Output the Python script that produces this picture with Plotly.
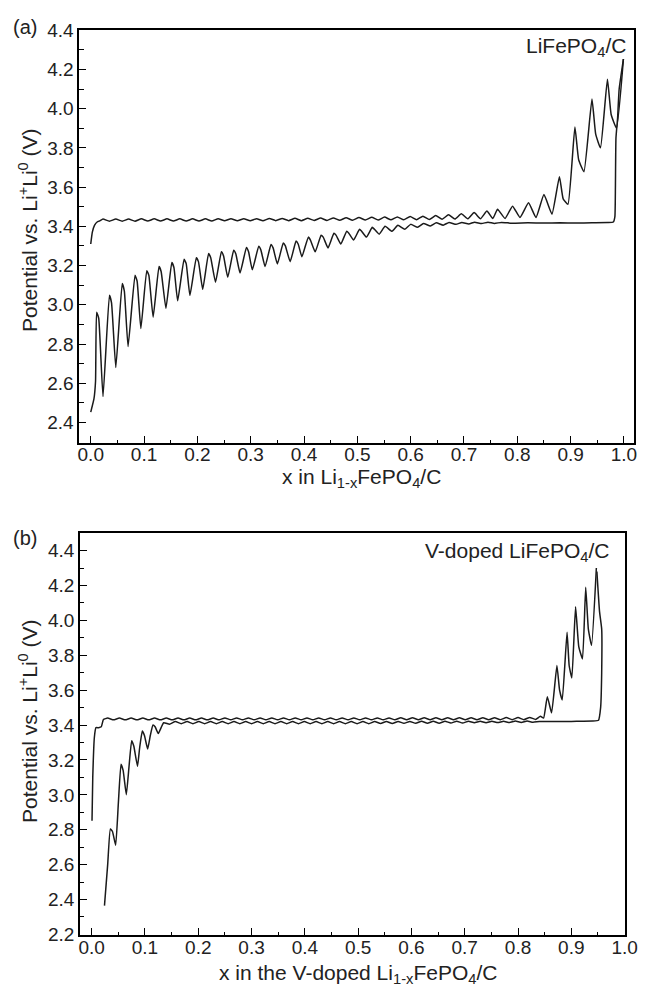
import plotly.graph_objects as go

# ---------------- Panel (a): LiFePO4/C ----------------
a_chg_x = [0.000, 0.003, 0.007, 0.012, 0.017,
           0.023, 0.035, 0.047, 0.059, 0.071, 0.083, 0.095, 0.107, 0.119, 0.131,
           0.143, 0.155, 0.167, 0.179, 0.191, 0.203, 0.215, 0.227, 0.239, 0.251,
           0.263, 0.275, 0.287, 0.299, 0.311, 0.323, 0.335, 0.347, 0.359, 0.371,
           0.383, 0.395, 0.407, 0.419, 0.431, 0.443, 0.455, 0.467, 0.479, 0.491,
           0.503, 0.515, 0.527, 0.539, 0.551, 0.563, 0.575, 0.587, 0.599, 0.611,
           0.623, 0.635, 0.647, 0.659, 0.671, 0.683, 0.695, 0.707, 0.719, 0.731,
           0.743, 0.754, 0.763, 0.777, 0.791, 0.805, 0.821, 0.835, 0.850, 0.865,
           0.879, 0.886, 0.895, 0.908, 0.915, 0.925, 0.940, 0.947, 0.956, 0.969,
           0.976, 0.986, 0.999]
a_chg_y = [3.310, 3.370, 3.405, 3.422, 3.428,
           3.437, 3.426, 3.437, 3.426, 3.437, 3.426, 3.438, 3.427, 3.438, 3.427,
           3.438, 3.427, 3.438, 3.427, 3.438, 3.427, 3.438, 3.427, 3.439, 3.428,
           3.439, 3.428, 3.439, 3.428, 3.439, 3.428, 3.440, 3.429, 3.440, 3.429,
           3.441, 3.429, 3.441, 3.430, 3.442, 3.430, 3.443, 3.431, 3.444, 3.431,
           3.445, 3.432, 3.446, 3.432, 3.447, 3.433, 3.448, 3.433, 3.450, 3.434,
           3.452, 3.435, 3.455, 3.436, 3.459, 3.437, 3.464, 3.438, 3.470, 3.439,
           3.478, 3.440, 3.487, 3.440, 3.503, 3.445, 3.520, 3.445, 3.562, 3.462,
           3.653, 3.540, 3.512, 3.907, 3.740, 3.678, 4.049, 3.870, 3.800, 4.150,
           3.970, 3.900, 4.253]

a_dis_x = [0.000, 0.006, 0.009, 0.011, 0.015, 0.023,
           0.035, 0.039, 0.047, 0.059, 0.063, 0.070, 0.083, 0.087, 0.094,
           0.105, 0.109, 0.117, 0.128, 0.132, 0.141, 0.152, 0.156, 0.163,
           0.175, 0.179, 0.186, 0.198, 0.202, 0.210, 0.221, 0.225, 0.234,
           0.245, 0.249, 0.257, 0.268, 0.272, 0.280, 0.292, 0.296, 0.303,
           0.315, 0.319, 0.327, 0.338, 0.342, 0.350, 0.361, 0.365, 0.374,
           0.385, 0.389, 0.396, 0.408, 0.412, 0.421, 0.432, 0.436, 0.445,
           0.456, 0.460, 0.469, 0.480, 0.484, 0.493, 0.504, 0.508, 0.517,
           0.528, 0.532, 0.541, 0.552, 0.565, 0.576, 0.589, 0.600, 0.613,
           0.624, 0.637, 0.648, 0.661, 0.672, 0.685, 0.696, 0.709, 0.720,
           0.733, 0.745, 0.757, 0.770, 0.790, 0.820, 0.850, 0.880, 0.910,
           0.940, 0.970, 0.980, 0.983, 0.984, 0.985, 0.988, 0.991, 0.999]
a_dis_y = [2.453, 2.520, 2.610, 2.962, 2.930, 2.532,
           3.048, 3.010, 2.680, 3.108, 3.070, 2.787, 3.150, 3.120, 2.879,
           3.174, 3.150, 2.937, 3.195, 3.170, 2.982, 3.215, 3.190, 3.020,
           3.232, 3.210, 3.048, 3.240, 3.220, 3.079, 3.262, 3.240, 3.115,
           3.270, 3.250, 3.140, 3.278, 3.260, 3.162, 3.292, 3.270, 3.178,
           3.298, 3.280, 3.195, 3.307, 3.290, 3.208, 3.315, 3.300, 3.220,
           3.325, 3.310, 3.245, 3.345, 3.330, 3.270, 3.355, 3.345, 3.290,
           3.365, 3.355, 3.310, 3.375, 3.365, 3.330, 3.385, 3.375, 3.345,
           3.395, 3.385, 3.360, 3.400, 3.375, 3.405, 3.385, 3.410, 3.395,
           3.415, 3.402, 3.418, 3.406, 3.420, 3.410, 3.420, 3.412, 3.421,
           3.414, 3.421, 3.415, 3.420, 3.416, 3.418, 3.417, 3.418, 3.417,
           3.418, 3.419, 3.422, 3.450, 3.600, 3.850, 3.950, 4.100, 4.253]

# ---------------- Panel (b): V-doped LiFePO4/C ----------------
b_chg_x = [0.0006, 0.002, 0.005, 0.008, 0.013, 0.018, 0.022,
           0.030, 0.041, 0.052, 0.063, 0.074, 0.085, 0.096, 0.107, 0.118, 0.129,
           0.140, 0.151, 0.162, 0.173, 0.184, 0.195, 0.206, 0.217, 0.228, 0.239,
           0.250, 0.261, 0.272, 0.283, 0.294, 0.305, 0.316, 0.327, 0.338, 0.349,
           0.360, 0.371, 0.382, 0.393, 0.404, 0.415, 0.426, 0.437, 0.448, 0.459,
           0.470, 0.481, 0.492, 0.503, 0.514, 0.525, 0.536, 0.547, 0.558, 0.569,
           0.580, 0.591, 0.602, 0.613, 0.624, 0.635, 0.646, 0.657, 0.668, 0.679,
           0.690, 0.701, 0.712, 0.723, 0.734, 0.745, 0.756, 0.767, 0.778, 0.789,
           0.800, 0.811, 0.822, 0.833, 0.842, 0.848,
           0.855, 0.863, 0.873, 0.878, 0.883, 0.892, 0.896, 0.901, 0.908, 0.914,
           0.921, 0.927, 0.932, 0.938, 0.947]
b_chg_y = [2.852, 3.100, 3.329, 3.385, 3.385, 3.390, 3.432,
           3.440, 3.430, 3.440, 3.430, 3.440, 3.430, 3.440, 3.430, 3.440, 3.430,
           3.440, 3.430, 3.440, 3.430, 3.440, 3.430, 3.440, 3.430, 3.440, 3.430,
           3.441, 3.430, 3.441, 3.430, 3.441, 3.430, 3.441, 3.430, 3.441, 3.430,
           3.441, 3.430, 3.441, 3.430, 3.441, 3.430, 3.441, 3.430, 3.441, 3.430,
           3.441, 3.430, 3.441, 3.430, 3.441, 3.430, 3.441, 3.430, 3.441, 3.430,
           3.442, 3.431, 3.442, 3.431, 3.442, 3.431, 3.442, 3.431, 3.442, 3.431,
           3.442, 3.431, 3.442, 3.431, 3.442, 3.431, 3.442, 3.431, 3.443, 3.431,
           3.443, 3.431, 3.444, 3.432, 3.450, 3.440,
           3.563, 3.470, 3.741, 3.600, 3.544, 3.932, 3.740, 3.670, 4.078, 3.850,
           3.779, 4.190, 3.950, 3.857, 4.300]

b_dis_x = [0.024, 0.030, 0.035, 0.039, 0.045, 0.050, 0.055, 0.059, 0.065,
           0.070, 0.075, 0.079, 0.086, 0.090, 0.095, 0.099, 0.105, 0.110,
           0.115, 0.119, 0.125, 0.135, 0.146,
           0.157, 0.168, 0.179, 0.190, 0.201, 0.212, 0.223, 0.234, 0.245, 0.256,
           0.267, 0.278, 0.289, 0.300, 0.311, 0.322, 0.333, 0.344, 0.355, 0.366,
           0.377, 0.388, 0.399, 0.410, 0.421, 0.432, 0.443, 0.454, 0.465, 0.476,
           0.487, 0.498, 0.509, 0.520, 0.531, 0.542, 0.553, 0.564, 0.575, 0.586,
           0.597, 0.608, 0.619, 0.630, 0.641, 0.652, 0.663, 0.674, 0.685, 0.696,
           0.707, 0.718, 0.729, 0.740, 0.751, 0.762, 0.773, 0.784, 0.795, 0.806,
           0.817, 0.828, 0.840, 0.860, 0.880, 0.900, 0.920, 0.940, 0.951, 0.955,
           0.957, 0.957, 0.953, 0.948]
b_dis_y = [2.365, 2.600, 2.805, 2.790, 2.711, 2.950, 3.175, 3.140, 3.001,
           3.160, 3.310, 3.280, 3.164, 3.270, 3.366, 3.340, 3.263, 3.340,
           3.400, 3.390, 3.352, 3.413, 3.405,
           3.420, 3.408, 3.420, 3.408, 3.420, 3.408, 3.420, 3.408, 3.420, 3.408,
           3.420, 3.408, 3.420, 3.408, 3.420, 3.408, 3.420, 3.408, 3.420, 3.408,
           3.420, 3.408, 3.420, 3.408, 3.420, 3.408, 3.420, 3.408, 3.420, 3.408,
           3.420, 3.408, 3.420, 3.408, 3.420, 3.409, 3.421, 3.409, 3.421, 3.410,
           3.421, 3.410, 3.422, 3.411, 3.422, 3.411, 3.422, 3.412, 3.422, 3.412,
           3.422, 3.413, 3.422, 3.413, 3.422, 3.414, 3.422, 3.414, 3.423, 3.415,
           3.423, 3.416, 3.420, 3.420, 3.421, 3.421, 3.422, 3.423, 3.428, 3.500,
           3.700, 3.950, 4.050, 4.280]

x_tick_vals = [0.0, 0.1, 0.2, 0.3, 0.4, 0.5, 0.6, 0.7, 0.8, 0.9, 1.0]
a_y_tick_vals = [2.4, 2.6, 2.8, 3.0, 3.2, 3.4, 3.6, 3.8, 4.0, 4.2, 4.4]
b_y_tick_vals = [2.2, 2.4, 2.6, 2.8, 3.0, 3.2, 3.4, 3.6, 3.8, 4.0, 4.2, 4.4]

W, H = 651, 1000
LINE = "#1a1a1a"
FONT = "Liberation Sans, Arial, sans-serif"

fig = go.Figure()
for xs, ys, xa, ya in [(a_chg_x, a_chg_y, "x", "y"), (a_dis_x, a_dis_y, "x", "y"),
                       (b_chg_x, b_chg_y, "x2", "y2"), (b_dis_x, b_dis_y, "x2", "y2")]:
    fig.add_trace(go.Scatter(x=xs, y=ys, mode="lines", xaxis=xa, yaxis=ya,
                             line=dict(color=LINE, width=1.5, shape="spline", smoothing=0.4),
                             showlegend=False, hoverinfo="skip"))


def px_x(p):
    return p / W


def px_y(p):
    return 1 - p / H


axis_common = dict(showline=True, mirror=True, linecolor="black", linewidth=1.6,
                   ticks="inside", ticklen=7, tickwidth=1.4, tickcolor="black",
                   showgrid=False, zeroline=False,
                   tickfont=dict(family=FONT, size=19, color="#222"))

fig.update_layout(
    width=W, height=H, margin=dict(l=0, r=0, t=0, b=0),
    paper_bgcolor="white", plot_bgcolor="white",
    xaxis=dict(domain=[px_x(80), px_x(647)], range=[-0.0215, 1.019], anchor="y",
               tickvals=x_tick_vals, tickformat=".1f", ticklabelstandoff=-6,
               minor=dict(dtick=0.05, tick0=0, ticks="inside", ticklen=3.5, tickwidth=1.2, tickcolor="black"),
               **axis_common),
    yaxis=dict(domain=[px_y(441.7), px_y(20)], range=[2.296, 4.403], anchor="x",
               tickvals=a_y_tick_vals, tickformat=".1f",
               minor=dict(dtick=0.1, tick0=2.3, ticks="inside", ticklen=4.5, tickwidth=1.2, tickcolor="black"),
               **axis_common),
    xaxis2=dict(domain=[px_x(80.7), px_x(637.3)], range=[-0.022, 1.0], anchor="y2",
                tickvals=x_tick_vals, tickformat=".1f", ticklabelstandoff=-6,
                minor=dict(dtick=0.05, tick0=0, ticks="inside", ticklen=3.5, tickwidth=1.2, tickcolor="black"),
                **axis_common),
    yaxis2=dict(domain=[px_y(944), px_y(533.3)], range=[2.196, 4.503], anchor="x2",
                tickvals=b_y_tick_vals, tickformat=".1f",
                minor=dict(dtick=0.1, tick0=2.2, ticks="inside", ticklen=4.5, tickwidth=1.2, tickcolor="black"),
                **axis_common),
)

TF = dict(family=FONT, size=21, color="#222")
ann = [
    dict(text="(a)", x=px_x(10), y=px_y(17), xanchor="left", yanchor="middle", font=dict(family=FONT, size=20, color="#222")),
    dict(text="(b)", x=px_x(10), y=px_y(539), xanchor="left", yanchor="middle", font=dict(family=FONT, size=20, color="#222")),
    dict(text="LiFePO<sub>4</sub>/C", x=px_x(641), y=px_y(38), xanchor="right", yanchor="middle", font=TF),
    dict(text="V-doped LiFePO<sub>4</sub>/C", x=px_x(623), y=px_y(553), xanchor="right", yanchor="middle", font=TF),
    dict(text="x in Li<sub>1-x</sub>FePO<sub>4</sub>/C", x=px_x(368), y=px_y(478), xanchor="center", yanchor="middle", font=TF),
    dict(text="x in the V-doped Li<sub>1-x</sub>FePO<sub>4</sub>/C", x=px_x(365), y=px_y(984), xanchor="center", yanchor="middle", font=TF),
    dict(text="Potential vs. Li<sup>+</sup>Li<sup>0</sup> (V)", x=px_x(27), y=px_y(224), textangle=-90,
         xanchor="center", yanchor="middle", font=TF),
    dict(text="Potential vs. Li<sup>+</sup>Li<sup>0</sup> (V)", x=px_x(27), y=px_y(725), textangle=-90,
         xanchor="center", yanchor="middle", font=TF),
]
for a in ann:
    a.update(xref="paper", yref="paper", showarrow=False)
fig.update_layout(annotations=ann)

fig.write_html("out.html")
